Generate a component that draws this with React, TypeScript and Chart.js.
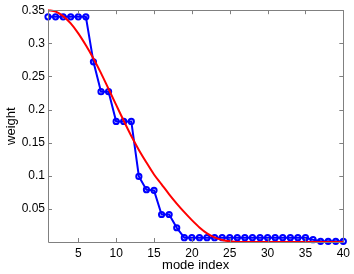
import React, { useEffect, useRef } from "react";
import { Chart, registerables } from "chart.js";

Chart.register(...registerables);

const modeIndex: number[] = Array.from({ length: 40 }, (_, i) => i + 1);

const blueWeights: number[] = [
  0.34, 0.34, 0.34, 0.34, 0.34, 0.34, 0.272, 0.227, 0.227, 0.182,
  0.182, 0.182, 0.099, 0.079, 0.078, 0.0415, 0.0415, 0.0215, 0.0065, 0.0065,
  0.0065, 0.0065, 0.0065, 0.0065, 0.0065, 0.0065, 0.0065, 0.0065, 0.0065, 0.0065,
  0.0065, 0.0065, 0.0065, 0.0065, 0.0065, 0.0035, 0.001, 0.001, 0.001, 0.001,
];

const redWeights: number[] = [
  0.35, 0.348, 0.341, 0.33, 0.315, 0.297, 0.277, 0.255, 0.231, 0.207,
  0.183, 0.16, 0.139, 0.12, 0.102, 0.087, 0.072, 0.058, 0.045, 0.033,
  0.022, 0.013, 0.007, 0.003, 0.001, 0, 0, 0, 0, 0,
  0, 0, 0, 0, 0, 0, 0, 0, 0, 0,
];

const xTickValues: number[] = [5, 10, 15, 20, 25, 30, 35, 40];
const xTickLabels: string[] = ["5", "10", "15", "20", "25", "30", "35", "40"];
const yTickValues: number[] = [0.05, 0.1, 0.15, 0.2, 0.25, 0.3, 0.35];
const yTickLabels: string[] = ["0.05", "0.1", "0.15", "0.2", "0.25", "0.3", "0.35"];

const FONT = "'Liberation Sans', Arial, Helvetica, sans-serif";

const boxPlugin = {
  id: "matlabBox",
  afterDraw(chart: any) {
    const { ctx, chartArea } = chart;
    const { left, right, top, bottom } = chartArea;
    const xs = chart.scales.x;
    const ys = chart.scales.y;
    const tl = 4;
    ctx.save();
    ctx.strokeStyle = "#808080";
    ctx.lineWidth = 1;
    ctx.beginPath();
    ctx.rect(Math.round(left) + 0.5, Math.round(top) + 0.5, Math.round(right - left), Math.round(bottom - top));
    xTickValues.forEach((v) => {
      const px = Math.round(xs.getPixelForValue(v)) + 0.5;
      ctx.moveTo(px, bottom);
      ctx.lineTo(px, bottom - tl);
      ctx.moveTo(px, top);
      ctx.lineTo(px, top + tl);
    });
    yTickValues.forEach((v) => {
      const py = Math.round(ys.getPixelForValue(v)) + 0.5;
      ctx.moveTo(left, py);
      ctx.lineTo(left + tl, py);
      ctx.moveTo(right, py);
      ctx.lineTo(right - tl, py);
    });
    ctx.stroke();
    ctx.restore();
  },
};

export default function App() {
  const canvasRef = useRef<HTMLCanvasElement | null>(null);

  useEffect(() => {
    if (!canvasRef.current) return;
    Chart.defaults.font.family = FONT;
    Chart.defaults.font.size = 12;
    Chart.defaults.color = "#000";
    const chart = new Chart(canvasRef.current, {
      type: "line",
      data: {
        datasets: [
          {
            label: "fit",
            data: modeIndex.map((x, i) => ({ x, y: redWeights[i] })),
            borderColor: "#ff0000",
            borderWidth: 2,
            pointRadius: 0,
            cubicInterpolationMode: "monotone",
            fill: false,
            clip: false as any,
            order: 0,
          },
          {
            label: "weights",
            data: modeIndex.map((x, i) => ({ x, y: blueWeights[i] })),
            borderColor: "#0000ff",
            borderWidth: 2,
            pointRadius: 2.6,
            pointBorderWidth: 2,
            pointBorderColor: "#0000ff",
            pointBackgroundColor: "rgba(0,0,0,0)",
            tension: 0,
            fill: false,
            clip: false as any,
            order: 1,
          },
        ],
      },
      options: {
        animation: false,
        responsive: false,
        maintainAspectRatio: false,
        layout: { padding: { left: 0, top: 8, right: 10, bottom: 0 } },
        plugins: { legend: { display: false }, tooltip: { enabled: false } },
        scales: {
          x: {
            type: "linear",
            min: 1,
            max: 40,
            grid: { display: false, drawTicks: false },
            border: { display: false },
            afterBuildTicks: (scale: any) => {
              scale.ticks = xTickValues.map((v) => ({ value: v }));
            },
            afterFit: (scale: any) => {
              scale.height = 32;
            },
            ticks: {
              padding: 4,
              maxRotation: 0,
              autoSkip: false,
              callback: (_v: any, i: number) => xTickLabels[i],
            },
            title: {
              display: true,
              text: "mode index",
              font: { size: 13 },
              padding: { top: 0, bottom: 1 },
            },
          },
          y: {
            type: "linear",
            min: 0,
            max: 0.35,
            grid: { display: false, drawTicks: false },
            border: { display: false },
            afterBuildTicks: (scale: any) => {
              scale.ticks = yTickValues.map((v) => ({ value: v }));
            },
            afterFit: (scale: any) => {
              scale.width = 48;
            },
            ticks: {
              padding: 3,
              autoSkip: false,
              callback: (_v: any, i: number) => yTickLabels[i],
            },
            title: {
              display: true,
              text: "weight",
              font: { size: 13 },
              padding: { top: 4, bottom: 0 },
            },
          },
        },
      },
      plugins: [boxPlugin],
    });
    return () => chart.destroy();
  }, []);

  return (
    <div style={{ position: "fixed", left: 0, top: 0, width: 354, height: 274, background: "#fff" }}>
      <canvas ref={canvasRef} width={354} height={274} style={{ width: 354, height: 274 }} />
    </div>
  );
}
